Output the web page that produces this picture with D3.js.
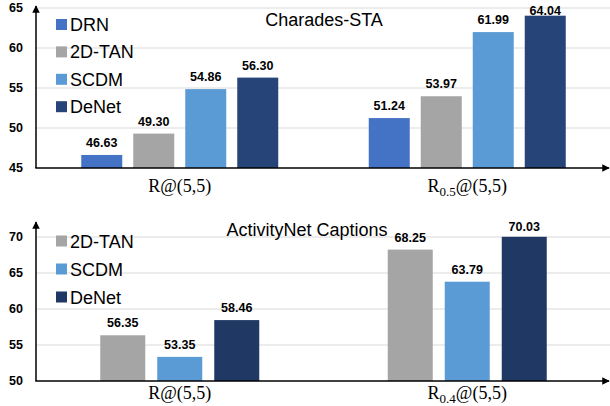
<!DOCTYPE html>
<html>
<head>
<meta charset="utf-8">
<script src="https://cdn.jsdelivr.net/npm/d3@7"></script>
<style>
  body { margin: 0; background: #fff; }
  svg { display: block; }
</style>
</head>
<body>
<div id="chart"></div>
<script>
// Charades-STA panel
const charadesMethods = ["DRN", "2D-TAN", "SCDM", "DeNet"];
const charadesMetrics = ["R@(5,5)", "R_0.5@(5,5)"];
const charadesScores = [
    [46.63, 51.24],   // DRN
    [49.30, 53.97],   // 2D-TAN
    [54.86, 61.99],   // SCDM
    [56.30, 64.04]    // DeNet
];
const charadesTicks = [45, 50, 55, 60, 65];
const charadesColors = ["#4472C4", "#A5A5A5", "#5B9BD5", "#264478"];

// ActivityNet Captions panel
const activityMethods = ["2D-TAN", "SCDM", "DeNet"];
const activityMetrics = ["R@(5,5)", "R_0.4@(5,5)"];
const activityScores = [
    [56.35, 68.25],   // 2D-TAN
    [53.35, 63.79],   // SCDM
    [58.46, 70.03]    // DeNet
];
const activityTicks = [50, 55, 60, 65, 70];
const activityColors = ["#A5A5A5", "#5B9BD5", "#203864"];

const W = 610, H = 406;
const sans = "'Liberation Sans', Arial, sans-serif";
const serif = "'Liberation Serif', 'Times New Roman', serif";

const svg = d3.select("#chart").append("svg")
    .attr("width", W)
    .attr("height", H);

const defs = svg.append("defs");
defs.append("marker")
    .attr("id", "arrow")
    .attr("viewBox", "0 0 10 10")
    .attr("refX", 9)
    .attr("refY", 5)
    .attr("markerWidth", 5)
    .attr("markerHeight", 5)
    .attr("orient", "auto")
  .append("path")
    .attr("d", "M0,0 L10,5 L0,10 z")
    .attr("fill", "#000");

function drawPanel(opt) {
    const g = svg.append("g");

    const y = d3.scaleLinear()
        .domain(d3.extent(opt.ticks))
        .range([opt.bottom, opt.top]);

    const x = d3.scaleBand()
        .domain(opt.metrics)
        .range([opt.left, W + 1]);

    const groupW = opt.barW * opt.methods.length + opt.gap * (opt.methods.length - 1);
    const inner = d3.scaleBand()
        .domain(opt.methods)
        .range([(x.bandwidth() - groupW) / 2, (x.bandwidth() + groupW) / 2])
        .paddingInner(opt.gap / (opt.barW + opt.gap));

    // gridlines
    g.selectAll(".grid")
        .data(opt.ticks.slice(1))
      .enter().append("line")
        .attr("x1", opt.left)
        .attr("x2", W)
        .attr("y1", d => y(d))
        .attr("y2", d => y(d))
        .attr("stroke", "#d9d9d9")
        .attr("stroke-width", 1);

    // y tick labels
    g.selectAll(".tick")
        .data(opt.ticks)
      .enter().append("text")
        .attr("x", opt.left - 13)
        .attr("y", d => y(d))
        .attr("dy", "0.35em")
        .attr("text-anchor", "end")
        .attr("font-family", sans)
        .attr("font-weight", "bold")
        .attr("font-size", "12.5px")
        .attr("fill", "#000")
        .text(d => d);

    // bars
    opt.methods.forEach((m, i) => {
        const rows = opt.metrics.map((c, j) => ({ metric: c, value: opt.scores[i][j] }));
        g.selectAll(".bar" + i)
            .data(rows)
          .enter().append("rect")
            .attr("x", d => x(d.metric) + inner(m))
            .attr("y", d => y(d.value))
            .attr("width", inner.bandwidth())
            .attr("height", d => opt.bottom - y(d.value))
            .attr("fill", opt.colors[i]);

        // value labels sit 8px above the bar, squeezed down if they hit the top
        g.selectAll(".val" + i)
            .data(rows)
          .enter().append("text")
            .attr("x", d => x(d.metric) + inner(m) + inner.bandwidth() / 2)
            .attr("y", d => Math.max(y(d.value) - 8, opt.arrowTop + 9))
            .attr("text-anchor", "middle")
            .attr("font-family", sans)
            .attr("font-weight", "bold")
            .attr("font-size", "12.5px")
            .attr("fill", "#000")
            .text(d => d.value.toFixed(2));
    });

    // axes with arrows
    g.append("line")
        .attr("x1", opt.left).attr("x2", opt.left)
        .attr("y1", opt.bottom).attr("y2", opt.arrowTop)
        .attr("stroke", "#000")
        .attr("stroke-width", 1.5)
        .attr("marker-end", "url(#arrow)");

    g.append("line")
        .attr("x1", opt.left - 0.75).attr("x2", W - 1)
        .attr("y1", opt.bottom).attr("y2", opt.bottom)
        .attr("stroke", "#000")
        .attr("stroke-width", 1.5)
        .attr("marker-end", "url(#arrow)");

    // category labels (with subscript after "_")
    g.selectAll(".cat")
        .data(opt.metrics)
      .enter().append("text")
        .attr("x", d => x(d) + x.bandwidth() / 2)
        .attr("y", opt.catY)
        .attr("text-anchor", "middle")
        .attr("font-family", serif)
        .attr("font-size", "18px")
        .attr("fill", "#000")
        .each(function(d) {
            const t = d3.select(this);
            if (d.indexOf("_") < 0) { t.text(d); return; }
            const head = d.split("_")[0];
            const sub = d.split("_")[1].split("@")[0];
            const rest = "@" + d.split("@")[1];
            t.append("tspan").text(head);
            t.append("tspan").attr("font-size", "13px").attr("dy", 4).text(sub);
            t.append("tspan").attr("dy", -4).text(rest);
        });

    // title
    g.append("text")
        .attr("x", opt.titleX)
        .attr("y", opt.titleY)
        .attr("text-anchor", "middle")
        .attr("font-family", sans)
        .attr("font-size", "18px")
        .attr("fill", "#000")
        .text(opt.title);

    // legend
    const legend = g.append("g");
    opt.methods.forEach((m, i) => {
        const cy = opt.legendY + i * opt.legendStep;
        legend.append("rect")
            .attr("x", 56)
            .attr("y", cy - 5.5)
            .attr("width", 11)
            .attr("height", 11)
            .attr("fill", opt.colors[i]);
        legend.append("text")
            .attr("x", 70)
            .attr("y", cy + 6.5)
            .attr("font-family", sans)
            .attr("font-size", "18px")
            .attr("fill", "#000")
            .text(m);
    });
}

drawPanel({
    title: "Charades-STA", titleX: 324, titleY: 26,
    methods: charadesMethods, metrics: charadesMetrics, scores: charadesScores,
    ticks: charadesTicks, colors: charadesColors,
    left: 36, top: 8, bottom: 168, arrowTop: 6, barW: 41, gap: 11, catY: 192,
    legendY: 24.5, legendStep: 27.4
});

drawPanel({
    title: "ActivityNet Captions", titleX: 307, titleY: 236,
    methods: activityMethods, metrics: activityMetrics, scores: activityScores,
    ticks: activityTicks, colors: activityColors,
    left: 36, top: 237, bottom: 381, arrowTop: 222, barW: 45, gap: 12, catY: 399,
    legendY: 241, legendStep: 28
});
</script>
</body>
</html>
